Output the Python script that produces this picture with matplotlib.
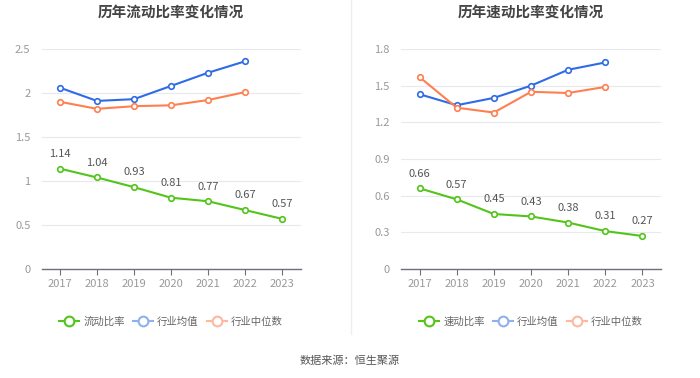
import matplotlib
matplotlib.use("Agg")
import matplotlib.pyplot as plt
from matplotlib.lines import Line2D

plt.rcParams['font.family'] = ['Noto Sans CJK SC', 'DejaVu Sans']

years = ['2017', '2018', '2019', '2020', '2021', '2022', '2023']

current_ratio = [1.14, 1.04, 0.93, 0.81, 0.77, 0.67, 0.57]
current_avg = [2.06, 1.91, 1.93, 2.08, 2.23, 2.36]
current_median = [1.90, 1.82, 1.85, 1.86, 1.92, 2.01]

quick_ratio = [0.66, 0.57, 0.45, 0.43, 0.38, 0.31, 0.27]
quick_avg = [1.43, 1.34, 1.40, 1.50, 1.63, 1.69]
quick_median = [1.57, 1.32, 1.28, 1.45, 1.44, 1.49]

left_ticks = [0, 0.5, 1, 1.5, 2, 2.5]
left_ticklabels = ['0', '0.5', '1', '1.5', '2', '2.5']
right_ticks = [0, 0.3, 0.6, 0.9, 1.2, 1.5, 1.8]
right_ticklabels = ['0', '0.3', '0.6', '0.9', '1.2', '1.5', '1.8']

GREEN = '#52c41a'
BLUE = '#2f6be6'
ORANGE = '#ff7f50'
GRID = '#e6e9f0'
TICKC = '#999999'

W, H = 700, 378
fig = plt.figure(figsize=(7, 3.78), dpi=100)

def make_panel(left_px, width_px, title, main, avg, med, ticks, ticklabels, ymax, name):
    ax = fig.add_axes([left_px / W, 1 - 269 / H, width_px / W, 220 / H])
    x = list(range(len(years)))
    ax.set_xlim(-0.5, len(years) - 0.5)
    ax.set_ylim(0, ymax)
    ax.set_yticks(ticks)
    ax.set_yticklabels(ticklabels)
    ax.set_xticks(x)
    ax.set_xticklabels(years)
    for s in ['top', 'right', 'left']:
        ax.spines[s].set_visible(False)
    ax.spines['bottom'].set_color('#6e7079')
    ax.spines['bottom'].set_linewidth(1)
    ax.tick_params(axis='y', length=0, labelsize=8, labelcolor=TICKC, pad=8)
    ax.tick_params(axis='x', length=4, color='#6e7079', labelsize=8, labelcolor=TICKC, pad=3)
    ax.grid(axis='y', color=GRID, linewidth=0.8)
    ax.set_axisbelow(True)
    mk = dict(marker='o', markersize=4, markerfacecolor='white', markeredgewidth=1.2, linewidth=1.5)
    ax.plot(x[:len(avg)], avg, color=BLUE, **mk, zorder=3)
    ax.plot(x[:len(med)], med, color=ORANGE, **mk, zorder=3)
    ax.plot(x, main, color=GREEN, **mk, zorder=4)
    for xi, v in zip(x, main):
        ax.annotate(f'{v:.2f}', (xi, v), xytext=(0, 7), textcoords='offset points',
                    ha='center', va='bottom', fontsize=8, color='#555555')
    fig.text((left_px + width_px / 2) / W, 1 - 12 / H, title, ha='center', va='center',
             fontsize=10.5, fontweight='bold', color='#444444')
    handles = [
        Line2D([], [], color=GREEN, marker='o', markersize=7, markerfacecolor='white', markeredgewidth=1.5, linewidth=1.5),
        Line2D([], [], color='#8fb0f0', marker='o', markersize=7, markerfacecolor='white', markeredgewidth=1.5, linewidth=1.5),
        Line2D([], [], color='#ffb8a0', marker='o', markersize=7, markerfacecolor='white', markeredgewidth=1.5, linewidth=1.5),
    ]
    leg = fig.legend(handles, [name, '行业均值', '行业中位数'], loc='center',
                     bbox_to_anchor=((left_px + width_px / 2) / W, 1 - 322 / H),
                     ncol=3, frameon=False, fontsize=7.5, handlelength=1.9,
                     handletextpad=0.4, columnspacing=0.8)
    for t in leg.get_texts():
        t.set_color('#666666')
    return ax

make_panel(41.5, 259, '历年流动比率变化情况', current_ratio, current_avg, current_median,
           left_ticks, left_ticklabels, 2.5, '流动比率')
make_panel(401, 260, '历年速动比率变化情况', quick_ratio, quick_avg, quick_median,
           right_ticks, right_ticklabels, 1.8, '速动比率')

fig.add_artist(Line2D([351 / W, 351 / W], [1 - 334 / H, 1.0], color='#eeeeee', linewidth=1))
fig.text(350 / W, 1 - 361 / H, '数据来源：恒生聚源', ha='center', va='center', fontsize=8, color='#555555')

fig.savefig('out.png', dpi=100, facecolor='white')
